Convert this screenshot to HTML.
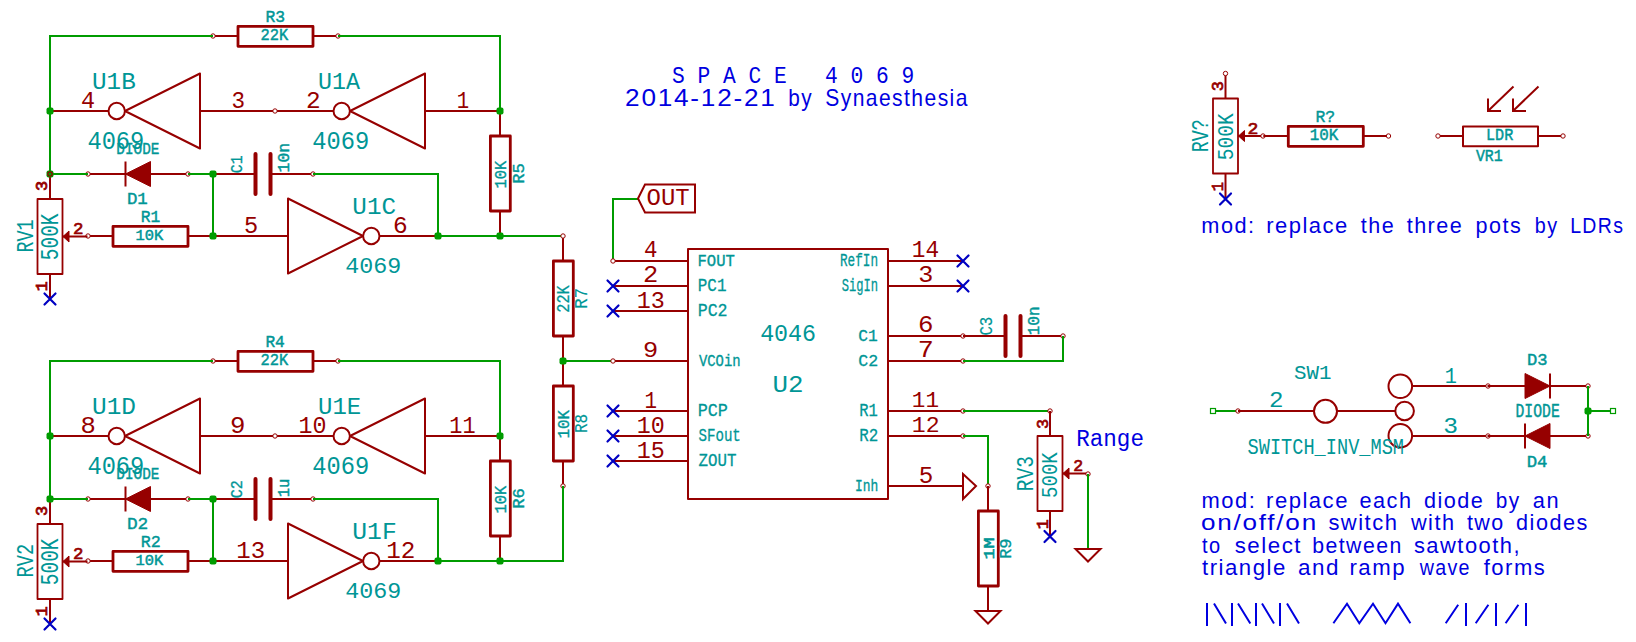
<!DOCTYPE html>
<html><head><meta charset="utf-8"><style>
html,body{margin:0;padding:0;background:#fff;width:1636px;height:642px;overflow:hidden}
svg{display:block}
text{font-family:"Liberation Mono",monospace;white-space:pre}
text.s{font-family:"Liberation Sans",sans-serif}
</style></head><body>
<svg width="1636" height="642" viewBox="0 0 1636 642">
<rect width="1636" height="642" fill="#fff"/>
<polyline points="213.0,36 238.0,36" fill="none" stroke="#960000" stroke-width="2"/>
<polyline points="313.0,36 338.0,36" fill="none" stroke="#960000" stroke-width="2"/>
<rect x="238.0" y="26.4" width="75.0" height="19.9" fill="none" stroke="#960000" stroke-width="2.8" stroke-linejoin="round"/>
<circle cx="213" cy="36" r="2.2" fill="#fff" stroke="#960000" stroke-width="1"/>
<circle cx="338" cy="36" r="2.2" fill="#fff" stroke="#960000" stroke-width="1"/>
<polyline points="213,36 50,36 50,174" fill="none" stroke="#009c00" stroke-width="2"/>
<polyline points="338,36 500,36 500,111" fill="none" stroke="#009c00" stroke-width="2"/>
<path d="M200.0 73.5 L125.0 111 L200.0 148.5 Z" fill="none" stroke="#960000" stroke-width="2" stroke-linejoin="round"/>
<circle cx="116.7" cy="111" r="8.2" fill="none" stroke="#960000" stroke-width="2"/>
<polyline points="275.0,111 200.0,111" fill="none" stroke="#960000" stroke-width="2"/>
<polyline points="108.5,111 50.0,111" fill="none" stroke="#960000" stroke-width="2"/>
<path d="M425.0 73.5 L350.0 111 L425.0 148.5 Z" fill="none" stroke="#960000" stroke-width="2" stroke-linejoin="round"/>
<circle cx="341.7" cy="111" r="8.2" fill="none" stroke="#960000" stroke-width="2"/>
<polyline points="500.0,111 425.0,111" fill="none" stroke="#960000" stroke-width="2"/>
<polyline points="333.5,111 275.0,111" fill="none" stroke="#960000" stroke-width="2"/>
<circle cx="275" cy="111" r="2.2" fill="#fff" stroke="#960000" stroke-width="1"/>
<path d="M288.0 198.5 L363.0 236 L288.0 273.5 Z" fill="none" stroke="#960000" stroke-width="2" stroke-linejoin="round"/>
<circle cx="371.3" cy="236" r="8.2" fill="none" stroke="#960000" stroke-width="2"/>
<polyline points="213.0,236 288.0,236" fill="none" stroke="#960000" stroke-width="2"/>
<polyline points="379.5,236 438.0,236" fill="none" stroke="#960000" stroke-width="2"/>
<polyline points="88,174 188,174" fill="none" stroke="#960000" stroke-width="2"/>
<path d="M150.5 161.5 L125.5 174 L150.5 186.5 Z" fill="#960000" stroke="#960000" stroke-width="1"/>
<line x1="125.5" y1="161.5" x2="125.5" y2="186.5" stroke="#960000" stroke-width="2"/>
<circle cx="88" cy="174" r="2.2" fill="#fff" stroke="#960000" stroke-width="1"/>
<circle cx="188" cy="174" r="2.2" fill="#fff" stroke="#960000" stroke-width="1"/>
<polyline points="50,174 88,174" fill="none" stroke="#009c00" stroke-width="2"/>
<polyline points="188,174 213,174 213,236" fill="none" stroke="#009c00" stroke-width="2"/>
<polyline points="213,174 255.5,174" fill="none" stroke="#960000" stroke-width="2"/>
<polyline points="270.5,174 313,174" fill="none" stroke="#960000" stroke-width="2"/>
<line x1="255.5" y1="154" x2="255.5" y2="194" stroke="#960000" stroke-width="4" stroke-linecap="round"/>
<line x1="270.5" y1="154" x2="270.5" y2="194" stroke="#960000" stroke-width="4" stroke-linecap="round"/>
<circle cx="313" cy="174" r="2.2" fill="#fff" stroke="#960000" stroke-width="1"/>
<polyline points="313,174 438,174 438,236" fill="none" stroke="#009c00" stroke-width="2"/>
<polyline points="88.0,236 113.0,236" fill="none" stroke="#960000" stroke-width="2"/>
<polyline points="188.0,236 213.0,236" fill="none" stroke="#960000" stroke-width="2"/>
<rect x="113.0" y="226.4" width="75.0" height="19.900000000000006" fill="none" stroke="#960000" stroke-width="2.8" stroke-linejoin="round"/>
<circle cx="88" cy="236" r="2.2" fill="#fff" stroke="#960000" stroke-width="1"/>
<polyline points="50,174.0 50,199.0" fill="none" stroke="#960000" stroke-width="2"/>
<polyline points="50,274.0 50,299.0" fill="none" stroke="#960000" stroke-width="2"/>
<rect x="37.5" y="199.0" width="25.0" height="75.0" fill="none" stroke="#960000" stroke-width="1.8" stroke-linejoin="round"/>
<polyline points="62.5,236.5 87.5,236.5" fill="none" stroke="#960000" stroke-width="2"/>
<path d="M63 236.5 L69 231.0 L69 242.0 Z" fill="#960000" stroke="#960000" stroke-width="1"/>
<polyline points="500,111.0 500,136.0" fill="none" stroke="#960000" stroke-width="2"/>
<polyline points="500,211.0 500,236.0" fill="none" stroke="#960000" stroke-width="2"/>
<rect x="490.4" y="136.0" width="19.900000000000034" height="75.0" fill="none" stroke="#960000" stroke-width="2.8" stroke-linejoin="round"/>
<path d="M44.5 293.5L55.5 304.5M44.5 304.5L55.5 293.5" stroke="#0000c2" stroke-width="2.2" stroke-linecap="round" fill="none"/>
<rect x="46.5" y="107.5" width="7" height="7" rx="2" fill="#009c00"/>
<rect x="46.5" y="170.5" width="7" height="7" rx="2" fill="#009c00"/>
<rect x="209.5" y="170.5" width="7" height="7" rx="2" fill="#009c00"/>
<rect x="209.5" y="232.5" width="7" height="7" rx="2" fill="#009c00"/>
<rect x="434.5" y="232.5" width="7" height="7" rx="2" fill="#009c00"/>
<rect x="496.5" y="232.5" width="7" height="7" rx="2" fill="#009c00"/>
<rect x="496.5" y="107.5" width="7" height="7" rx="2" fill="#009c00"/>
<polyline points="438,236 563,236" fill="none" stroke="#009c00" stroke-width="2"/>
<text transform="translate(265.41 21.70) scale(1.0261 1)" font-size="15.94" fill="#009696" stroke="#009696" stroke-width="0.43">R3</text>
<text transform="translate(260.62 40.40) scale(0.9744 1)" font-size="15.79" fill="#009696" stroke="#009696" stroke-width="0.44">22K</text>
<text transform="translate(92.02 88.80) scale(0.9992 1)" font-size="24.29" fill="#009696">U1B</text>
<text transform="translate(318.09 88.80) scale(0.9587 1)" font-size="24.29" fill="#009696">U1A</text>
<text transform="translate(87.41 148.80) scale(0.9527 1)" font-size="24.90" fill="#009696">4069</text>
<text transform="translate(312.31 148.80) scale(0.9527 1)" font-size="24.90" fill="#009696">4069</text>
<text transform="translate(81.12 107.70) scale(0.9533 1)" font-size="24.59" fill="#960000">4</text>
<text transform="translate(231.59 107.70) scale(0.9176 1)" font-size="24.59" fill="#960000">3</text>
<text transform="translate(306.08 107.70) scale(0.9922 1)" font-size="24.59" fill="#960000">2</text>
<text transform="translate(456.81 107.70) scale(0.8395 1)" font-size="24.59" fill="#960000">1</text>
<text transform="translate(116.26 153.50) scale(0.8699 1)" font-size="16.55" fill="#009696" stroke="#009696" stroke-width="0.38">DIODE</text>
<text transform="translate(126.92 204.30) scale(1.0731 1)" font-size="16.24" fill="#009696" stroke="#009696" stroke-width="0.40">D1</text>
<text transform="translate(140.71 221.70) scale(1.0042 1)" font-size="16.24" fill="#009696" stroke="#009696" stroke-width="0.40">R1</text>
<text transform="translate(135.49 239.70) scale(1.0145 1)" font-size="15.18" fill="#009696" stroke="#009696" stroke-width="0.49">10K</text>
<text transform="translate(241.70 173.22) rotate(-90) scale(0.8688 1)" font-size="17.00" fill="#009696" stroke="#009696" stroke-width="0.34">C1</text>
<text transform="translate(289.10 172.38) rotate(-90) scale(1.0212 1)" font-size="15.94" fill="#009696" stroke="#009696" stroke-width="0.43">10n</text>
<text transform="translate(33.00 252.46) rotate(-90) scale(0.7774 1)" font-size="23.68" fill="#009696">RV1</text>
<text transform="translate(57.80 260.22) rotate(-90) scale(0.7680 1)" font-size="25.35" fill="#009696">500K</text>
<text transform="translate(47.40 190.95) rotate(-90) scale(1.0585 1)" font-size="15.94" fill="#960000" stroke="#960000" stroke-width="0.78">3</text>
<text transform="translate(47.40 291.21) rotate(-90) scale(1.0567 1)" font-size="15.79" fill="#960000" stroke="#960000" stroke-width="0.79">1</text>
<text transform="translate(73.07 233.50) scale(1.0251 1)" font-size="17.00" fill="#960000" stroke="#960000" stroke-width="0.69">2</text>
<text transform="translate(244.02 232.70) scale(1.0104 1)" font-size="23.38" fill="#960000">5</text>
<text transform="translate(392.89 232.70) scale(1.0475 1)" font-size="23.38" fill="#960000">6</text>
<text transform="translate(352.32 213.50) scale(1.0188 1)" font-size="23.84" fill="#009696">U1C</text>
<text transform="translate(345.22 273.30) scale(1.0331 1)" font-size="22.62" fill="#009696">4069</text>
<text transform="translate(506.40 188.52) rotate(-90) scale(0.9429 1)" font-size="16.40" fill="#009696" stroke="#009696" stroke-width="0.39">10K</text>
<text transform="translate(523.80 183.76) rotate(-90) scale(1.0495 1)" font-size="16.40" fill="#009696" stroke="#009696" stroke-width="0.39">R5</text>
<polyline points="213.0,361 238.0,361" fill="none" stroke="#960000" stroke-width="2"/>
<polyline points="313.0,361 338.0,361" fill="none" stroke="#960000" stroke-width="2"/>
<rect x="238.0" y="351.4" width="75.0" height="19.900000000000034" fill="none" stroke="#960000" stroke-width="2.8" stroke-linejoin="round"/>
<circle cx="213" cy="361" r="2.2" fill="#fff" stroke="#960000" stroke-width="1"/>
<circle cx="338" cy="361" r="2.2" fill="#fff" stroke="#960000" stroke-width="1"/>
<polyline points="213,361 50,361 50,499" fill="none" stroke="#009c00" stroke-width="2"/>
<polyline points="338,361 500,361 500,436" fill="none" stroke="#009c00" stroke-width="2"/>
<path d="M200.0 398.5 L125.0 436 L200.0 473.5 Z" fill="none" stroke="#960000" stroke-width="2" stroke-linejoin="round"/>
<circle cx="116.7" cy="436" r="8.2" fill="none" stroke="#960000" stroke-width="2"/>
<polyline points="275.0,436 200.0,436" fill="none" stroke="#960000" stroke-width="2"/>
<polyline points="108.5,436 50.0,436" fill="none" stroke="#960000" stroke-width="2"/>
<path d="M425.0 398.5 L350.0 436 L425.0 473.5 Z" fill="none" stroke="#960000" stroke-width="2" stroke-linejoin="round"/>
<circle cx="341.7" cy="436" r="8.2" fill="none" stroke="#960000" stroke-width="2"/>
<polyline points="500.0,436 425.0,436" fill="none" stroke="#960000" stroke-width="2"/>
<polyline points="333.5,436 275.0,436" fill="none" stroke="#960000" stroke-width="2"/>
<circle cx="275" cy="436" r="2.2" fill="#fff" stroke="#960000" stroke-width="1"/>
<path d="M288.0 523.5 L363.0 561 L288.0 598.5 Z" fill="none" stroke="#960000" stroke-width="2" stroke-linejoin="round"/>
<circle cx="371.3" cy="561" r="8.2" fill="none" stroke="#960000" stroke-width="2"/>
<polyline points="213.0,561 288.0,561" fill="none" stroke="#960000" stroke-width="2"/>
<polyline points="379.5,561 438.0,561" fill="none" stroke="#960000" stroke-width="2"/>
<polyline points="88,499 188,499" fill="none" stroke="#960000" stroke-width="2"/>
<path d="M150.5 486.5 L125.5 499 L150.5 511.5 Z" fill="#960000" stroke="#960000" stroke-width="1"/>
<line x1="125.5" y1="486.5" x2="125.5" y2="511.5" stroke="#960000" stroke-width="2"/>
<circle cx="88" cy="499" r="2.2" fill="#fff" stroke="#960000" stroke-width="1"/>
<circle cx="188" cy="499" r="2.2" fill="#fff" stroke="#960000" stroke-width="1"/>
<polyline points="50,499 88,499" fill="none" stroke="#009c00" stroke-width="2"/>
<polyline points="188,499 213,499 213,561" fill="none" stroke="#009c00" stroke-width="2"/>
<polyline points="213,499 255.5,499" fill="none" stroke="#960000" stroke-width="2"/>
<polyline points="270.5,499 313,499" fill="none" stroke="#960000" stroke-width="2"/>
<line x1="255.5" y1="479" x2="255.5" y2="519" stroke="#960000" stroke-width="4" stroke-linecap="round"/>
<line x1="270.5" y1="479" x2="270.5" y2="519" stroke="#960000" stroke-width="4" stroke-linecap="round"/>
<circle cx="313" cy="499" r="2.2" fill="#fff" stroke="#960000" stroke-width="1"/>
<polyline points="313,499 438,499 438,561" fill="none" stroke="#009c00" stroke-width="2"/>
<polyline points="88.0,561 113.0,561" fill="none" stroke="#960000" stroke-width="2"/>
<polyline points="188.0,561 213.0,561" fill="none" stroke="#960000" stroke-width="2"/>
<rect x="113.0" y="551.4" width="75.0" height="19.899999999999977" fill="none" stroke="#960000" stroke-width="2.8" stroke-linejoin="round"/>
<circle cx="88" cy="561" r="2.2" fill="#fff" stroke="#960000" stroke-width="1"/>
<polyline points="50,499.0 50,524.0" fill="none" stroke="#960000" stroke-width="2"/>
<polyline points="50,599.0 50,624.0" fill="none" stroke="#960000" stroke-width="2"/>
<rect x="37.5" y="524.0" width="25.0" height="75.0" fill="none" stroke="#960000" stroke-width="1.8" stroke-linejoin="round"/>
<polyline points="62.5,561.5 87.5,561.5" fill="none" stroke="#960000" stroke-width="2"/>
<path d="M63 561.5 L69 556.0 L69 567.0 Z" fill="#960000" stroke="#960000" stroke-width="1"/>
<polyline points="500,436.0 500,461.0" fill="none" stroke="#960000" stroke-width="2"/>
<polyline points="500,536.0 500,561.0" fill="none" stroke="#960000" stroke-width="2"/>
<rect x="490.4" y="461.0" width="19.900000000000034" height="75.0" fill="none" stroke="#960000" stroke-width="2.8" stroke-linejoin="round"/>
<path d="M44.5 618.5L55.5 629.5M44.5 629.5L55.5 618.5" stroke="#0000c2" stroke-width="2.2" stroke-linecap="round" fill="none"/>
<rect x="46.5" y="432.5" width="7" height="7" rx="2" fill="#009c00"/>
<rect x="46.5" y="495.5" width="7" height="7" rx="2" fill="#009c00"/>
<rect x="209.5" y="495.5" width="7" height="7" rx="2" fill="#009c00"/>
<rect x="209.5" y="557.5" width="7" height="7" rx="2" fill="#009c00"/>
<rect x="434.5" y="557.5" width="7" height="7" rx="2" fill="#009c00"/>
<rect x="496.5" y="557.5" width="7" height="7" rx="2" fill="#009c00"/>
<rect x="496.5" y="432.5" width="7" height="7" rx="2" fill="#009c00"/>
<polyline points="438,561 563,561" fill="none" stroke="#009c00" stroke-width="2"/>
<text transform="translate(265.42 346.70) scale(1.0140 1)" font-size="15.94" fill="#009696" stroke="#009696" stroke-width="0.43">R4</text>
<text transform="translate(260.62 365.40) scale(0.9744 1)" font-size="15.79" fill="#009696" stroke="#009696" stroke-width="0.44">22K</text>
<text transform="translate(92.00 413.80) scale(1.0070 1)" font-size="24.29" fill="#009696">U1D</text>
<text transform="translate(318.04 413.80) scale(0.9883 1)" font-size="24.29" fill="#009696">U1E</text>
<text transform="translate(87.41 473.80) scale(0.9527 1)" font-size="24.90" fill="#009696">4069</text>
<text transform="translate(312.31 473.80) scale(0.9527 1)" font-size="24.90" fill="#009696">4069</text>
<text transform="translate(80.54 432.70) scale(1.0398 1)" font-size="24.59" fill="#960000">8</text>
<text transform="translate(230.03 432.70) scale(1.0475 1)" font-size="24.59" fill="#960000">9</text>
<text transform="translate(298.61 432.70) scale(0.9494 1)" font-size="24.59" fill="#960000">10</text>
<text transform="translate(449.31 432.70) scale(0.8926 1)" font-size="24.59" fill="#960000">11</text>
<text transform="translate(116.26 478.50) scale(0.8699 1)" font-size="16.55" fill="#009696" stroke="#009696" stroke-width="0.38">DIODE</text>
<text transform="translate(126.89 529.30) scale(1.0960 1)" font-size="16.24" fill="#009696" stroke="#009696" stroke-width="0.40">D2</text>
<text transform="translate(140.68 546.70) scale(1.0257 1)" font-size="16.24" fill="#009696" stroke="#009696" stroke-width="0.40">R2</text>
<text transform="translate(135.49 564.70) scale(1.0145 1)" font-size="15.18" fill="#009696" stroke="#009696" stroke-width="0.49">10K</text>
<text transform="translate(241.70 498.23) rotate(-90) scale(0.8869 1)" font-size="17.00" fill="#009696" stroke="#009696" stroke-width="0.34">C2</text>
<text transform="translate(289.10 497.22) rotate(-90) scale(0.9744 1)" font-size="15.94" fill="#009696" stroke="#009696" stroke-width="0.43">1u</text>
<text transform="translate(33.00 577.48) rotate(-90) scale(0.7880 1)" font-size="23.68" fill="#009696">RV2</text>
<text transform="translate(57.80 585.22) rotate(-90) scale(0.7680 1)" font-size="25.35" fill="#009696">500K</text>
<text transform="translate(47.40 515.95) rotate(-90) scale(1.0585 1)" font-size="15.94" fill="#960000" stroke="#960000" stroke-width="0.78">3</text>
<text transform="translate(47.40 616.21) rotate(-90) scale(1.0567 1)" font-size="15.79" fill="#960000" stroke="#960000" stroke-width="0.79">1</text>
<text transform="translate(73.07 558.50) scale(1.0251 1)" font-size="17.00" fill="#960000" stroke="#960000" stroke-width="0.69">2</text>
<text transform="translate(236.26 557.70) scale(1.0287 1)" font-size="23.38" fill="#960000">13</text>
<text transform="translate(386.24 557.70) scale(1.0398 1)" font-size="23.38" fill="#960000">12</text>
<text transform="translate(352.29 538.50) scale(1.0358 1)" font-size="23.84" fill="#009696">U1F</text>
<text transform="translate(345.22 598.30) scale(1.0331 1)" font-size="22.62" fill="#009696">4069</text>
<text transform="translate(506.40 513.52) rotate(-90) scale(0.9429 1)" font-size="16.40" fill="#009696" stroke="#009696" stroke-width="0.39">10K</text>
<text transform="translate(523.80 508.76) rotate(-90) scale(1.0510 1)" font-size="16.40" fill="#009696" stroke="#009696" stroke-width="0.39">R6</text>
<circle cx="50" cy="174" r="2.2" fill="none" stroke="#960000" stroke-width="1.2"/>
<polyline points="563,236.0 563,261.0" fill="none" stroke="#960000" stroke-width="2"/>
<polyline points="563,336.0 563,361.0" fill="none" stroke="#960000" stroke-width="2"/>
<rect x="553.4" y="261.0" width="19.899999999999977" height="75.0" fill="none" stroke="#960000" stroke-width="2.8" stroke-linejoin="round"/>
<circle cx="563" cy="236" r="2.2" fill="#fff" stroke="#960000" stroke-width="1"/>
<polyline points="563,361.0 563,386.0" fill="none" stroke="#960000" stroke-width="2"/>
<polyline points="563,461.0 563,486.0" fill="none" stroke="#960000" stroke-width="2"/>
<rect x="553.4" y="386.0" width="19.899999999999977" height="75.0" fill="none" stroke="#960000" stroke-width="2.8" stroke-linejoin="round"/>
<circle cx="563" cy="486" r="2.2" fill="#fff" stroke="#960000" stroke-width="1"/>
<polyline points="563,361 613,361" fill="none" stroke="#009c00" stroke-width="2"/>
<rect x="559.5" y="357.5" width="7" height="7" rx="2" fill="#009c00"/>
<polyline points="500,561 563,561 563,486" fill="none" stroke="#009c00" stroke-width="2"/>
<text transform="translate(569.40 312.77) rotate(-90) scale(0.8381 1)" font-size="18.22" fill="#009696" stroke="#009696" stroke-width="0.24">22K</text>
<text transform="translate(587.40 308.67) rotate(-90) scale(0.9094 1)" font-size="18.98" fill="#009696" stroke="#009696" stroke-width="0.17">R7</text>
<text transform="translate(569.20 438.45) rotate(-90) scale(0.9331 1)" font-size="17.00" fill="#009696" stroke="#009696" stroke-width="0.34">10K</text>
<text transform="translate(587.40 433.07) rotate(-90) scale(0.8508 1)" font-size="18.83" fill="#009696" stroke="#009696" stroke-width="0.19">R8</text>
<polyline points="613,261 613,199 638,199" fill="none" stroke="#009c00" stroke-width="2"/>
<path d="M638 198.5 L645 184.5 L695 184.5 L695 212.5 L645 212.5 Z" fill="none" stroke="#960000" stroke-width="2"/>
<text transform="translate(646.50 205.30) scale(0.9756 1)" font-size="24.59" fill="#960000">OUT</text>
<rect x="688" y="249" width="200" height="250" fill="none" stroke="#960000" stroke-width="2" stroke-linejoin="round"/>
<polyline points="613,261 688,261" fill="none" stroke="#960000" stroke-width="2"/>
<polyline points="613,286 688,286" fill="none" stroke="#960000" stroke-width="2"/>
<polyline points="613,311 688,311" fill="none" stroke="#960000" stroke-width="2"/>
<polyline points="613,361 688,361" fill="none" stroke="#960000" stroke-width="2"/>
<polyline points="613,411 688,411" fill="none" stroke="#960000" stroke-width="2"/>
<polyline points="613,436 688,436" fill="none" stroke="#960000" stroke-width="2"/>
<polyline points="613,461 688,461" fill="none" stroke="#960000" stroke-width="2"/>
<polyline points="888,261 963,261" fill="none" stroke="#960000" stroke-width="2"/>
<polyline points="888,286 963,286" fill="none" stroke="#960000" stroke-width="2"/>
<polyline points="888,336 963,336" fill="none" stroke="#960000" stroke-width="2"/>
<polyline points="888,361 963,361" fill="none" stroke="#960000" stroke-width="2"/>
<polyline points="888,411 963,411" fill="none" stroke="#960000" stroke-width="2"/>
<polyline points="888,436 963,436" fill="none" stroke="#960000" stroke-width="2"/>
<polyline points="888,486 963,486" fill="none" stroke="#960000" stroke-width="2"/>
<circle cx="613" cy="261" r="2.2" fill="#fff" stroke="#960000" stroke-width="1"/>
<circle cx="613" cy="361" r="2.2" fill="#fff" stroke="#960000" stroke-width="1"/>
<path d="M607.5 280.5L618.5 291.5M607.5 291.5L618.5 280.5" stroke="#0000c2" stroke-width="2.2" stroke-linecap="round" fill="none"/>
<path d="M607.5 305.5L618.5 316.5M607.5 316.5L618.5 305.5" stroke="#0000c2" stroke-width="2.2" stroke-linecap="round" fill="none"/>
<path d="M607.5 405.5L618.5 416.5M607.5 416.5L618.5 405.5" stroke="#0000c2" stroke-width="2.2" stroke-linecap="round" fill="none"/>
<path d="M607.5 430.5L618.5 441.5M607.5 441.5L618.5 430.5" stroke="#0000c2" stroke-width="2.2" stroke-linecap="round" fill="none"/>
<path d="M607.5 455.5L618.5 466.5M607.5 466.5L618.5 455.5" stroke="#0000c2" stroke-width="2.2" stroke-linecap="round" fill="none"/>
<path d="M957.5 255.5L968.5 266.5M957.5 266.5L968.5 255.5" stroke="#0000c2" stroke-width="2.2" stroke-linecap="round" fill="none"/>
<path d="M957.5 280.5L968.5 291.5M957.5 291.5L968.5 280.5" stroke="#0000c2" stroke-width="2.2" stroke-linecap="round" fill="none"/>
<circle cx="963" cy="336" r="2.2" fill="#fff" stroke="#960000" stroke-width="1"/>
<circle cx="963" cy="361" r="2.2" fill="#fff" stroke="#960000" stroke-width="1"/>
<circle cx="963" cy="411" r="2.2" fill="#fff" stroke="#960000" stroke-width="1"/>
<circle cx="963" cy="436" r="2.2" fill="#fff" stroke="#960000" stroke-width="1"/>
<text transform="translate(697.52 266.10) scale(0.9179 1)" font-size="17.00" fill="#009696" stroke="#009696" stroke-width="0.34">FOUT</text>
<text transform="translate(697.74 291.00) scale(0.9063 1)" font-size="17.61" fill="#009696" stroke="#009696" stroke-width="0.29">PC1</text>
<text transform="translate(697.69 316.00) scale(0.9347 1)" font-size="17.76" fill="#009696" stroke="#009696" stroke-width="0.28">PC2</text>
<text transform="translate(698.93 365.90) scale(0.8099 1)" font-size="17.16" fill="#009696" stroke="#009696" stroke-width="0.33">VCOin</text>
<text transform="translate(697.67 416.10) scale(0.9454 1)" font-size="17.76" fill="#009696" stroke="#009696" stroke-width="0.28">PCP</text>
<text transform="translate(698.45 441.00) scale(0.7957 1)" font-size="17.76" fill="#009696" stroke="#009696" stroke-width="0.28">SFout</text>
<text transform="translate(698.44 466.00) scale(0.8903 1)" font-size="17.76" fill="#009696" stroke="#009696" stroke-width="0.28">ZOUT</text>
<text transform="translate(840.00 266.10) scale(0.7153 1)" font-size="17.76" fill="#009696" stroke="#009696" stroke-width="0.28">RefIn</text>
<text transform="translate(841.73 291.00) scale(0.6876 1)" font-size="17.61" fill="#009696" stroke="#009696" stroke-width="0.29">SigIn</text>
<text transform="translate(858.30 341.00) scale(0.9461 1)" font-size="17.16" fill="#009696" stroke="#009696" stroke-width="0.33">C1</text>
<text transform="translate(858.29 365.90) scale(0.9659 1)" font-size="17.16" fill="#009696" stroke="#009696" stroke-width="0.33">C2</text>
<text transform="translate(859.18 416.10) scale(0.8712 1)" font-size="17.76" fill="#009696" stroke="#009696" stroke-width="0.28">R1</text>
<text transform="translate(859.15 441.00) scale(0.8898 1)" font-size="17.76" fill="#009696" stroke="#009696" stroke-width="0.28">R2</text>
<text transform="translate(854.93 491.00) scale(0.7513 1)" font-size="17.16" fill="#009696" stroke="#009696" stroke-width="0.33">Inh</text>
<text transform="translate(760.13 341.40) scale(0.9976 1)" font-size="23.38" fill="#009696">4046</text>
<text transform="translate(772.51 392.00) scale(1.0776 1)" font-size="23.99" fill="#009696">U2</text>
<text transform="translate(644.07 257.10) scale(0.9600 1)" font-size="23.38" fill="#960000">4</text>
<text transform="translate(642.91 282.40) scale(1.0833 1)" font-size="23.53" fill="#960000">2</text>
<text transform="translate(636.81 307.80) scale(0.9941 1)" font-size="23.53" fill="#960000">13</text>
<text transform="translate(642.96 357.20) scale(1.1123 1)" font-size="22.77" fill="#960000">9</text>
<text transform="translate(644.49 407.90) scale(0.8863 1)" font-size="23.53" fill="#960000">1</text>
<text transform="translate(636.81 432.80) scale(0.9987 1)" font-size="23.38" fill="#960000">10</text>
<text transform="translate(636.81 457.80) scale(0.9941 1)" font-size="23.53" fill="#960000">15</text>
<text transform="translate(911.86 256.90) scale(0.9543 1)" font-size="23.84" fill="#960000">14</text>
<text transform="translate(918.23 282.40) scale(1.0205 1)" font-size="24.59" fill="#960000">3</text>
<text transform="translate(917.90 332.20) scale(1.0486 1)" font-size="24.59" fill="#960000">6</text>
<text transform="translate(917.74 357.20) scale(1.1369 1)" font-size="23.53" fill="#960000">7</text>
<text transform="translate(911.86 407.40) scale(1.0032 1)" font-size="22.62" fill="#960000">11</text>
<text transform="translate(911.83 432.30) scale(1.0246 1)" font-size="22.62" fill="#960000">12</text>
<text transform="translate(918.68 482.70) scale(1.0308 1)" font-size="23.53" fill="#960000">5</text>
<polyline points="963,336 1005.5,336" fill="none" stroke="#960000" stroke-width="2"/>
<polyline points="1020.5,336 1063,336" fill="none" stroke="#960000" stroke-width="2"/>
<line x1="1005.5" y1="316" x2="1005.5" y2="356" stroke="#960000" stroke-width="4" stroke-linecap="round"/>
<line x1="1020.5" y1="316" x2="1020.5" y2="356" stroke="#960000" stroke-width="4" stroke-linecap="round"/>
<circle cx="1063" cy="336" r="2.2" fill="#fff" stroke="#960000" stroke-width="1"/>
<polyline points="1063,336 1063,361 963,361" fill="none" stroke="#009c00" stroke-width="2"/>
<text transform="translate(992.00 335.57) rotate(-90) scale(0.8350 1)" font-size="18.83" fill="#009696" stroke="#009696" stroke-width="0.19">C3</text>
<text transform="translate(1039.00 335.36) rotate(-90) scale(1.0098 1)" font-size="15.94" fill="#009696" stroke="#009696" stroke-width="0.43">10n</text>
<path d="M963 474 L976 486 L963 499 Z" fill="none" stroke="#960000" stroke-width="2"/>
<polyline points="963,411 1050,411" fill="none" stroke="#009c00" stroke-width="2"/>
<circle cx="1050" cy="411" r="2.2" fill="#fff" stroke="#960000" stroke-width="1"/>
<polyline points="1050,411.0 1050,436.0" fill="none" stroke="#960000" stroke-width="2"/>
<polyline points="1050,511.0 1050,536.0" fill="none" stroke="#960000" stroke-width="2"/>
<rect x="1037.5" y="436.0" width="25.0" height="75.0" fill="none" stroke="#960000" stroke-width="1.8" stroke-linejoin="round"/>
<polyline points="1062.5,473.5 1087.5,473.5" fill="none" stroke="#960000" stroke-width="2"/>
<path d="M1063 473.5 L1069 468.0 L1069 479.0 Z" fill="#960000" stroke="#960000" stroke-width="1"/>
<circle cx="1088" cy="474" r="2.2" fill="#fff" stroke="#960000" stroke-width="1"/>
<path d="M1044.5 531.0L1055.5 542.0M1044.5 542.0L1055.5 531.0" stroke="#0000c2" stroke-width="2.2" stroke-linecap="round" fill="none"/>
<polyline points="1088,474 1088,549" fill="none" stroke="#009c00" stroke-width="2"/>
<path d="M1075.5 549 L1100.5 549 L1088 561.5 Z" fill="none" stroke="#960000" stroke-width="2"/>
<polyline points="963,436 988,436 988,486" fill="none" stroke="#009c00" stroke-width="2"/>
<circle cx="988" cy="486" r="2.2" fill="#fff" stroke="#960000" stroke-width="1"/>
<polyline points="988,486.0 988,511.0" fill="none" stroke="#960000" stroke-width="2"/>
<polyline points="988,586.0 988,611.0" fill="none" stroke="#960000" stroke-width="2"/>
<rect x="978.4" y="511.0" width="19.899999999999977" height="75.0" fill="none" stroke="#960000" stroke-width="2.8" stroke-linejoin="round"/>
<path d="M975.5 611 L1000.5 611 L988 623.5 Z" fill="none" stroke="#960000" stroke-width="2"/>
<text transform="translate(1048.20 428.95) rotate(-90) scale(0.9923 1)" font-size="17.00" fill="#960000" stroke="#960000" stroke-width="0.69">3</text>
<text transform="translate(1047.80 529.21) rotate(-90) scale(1.0176 1)" font-size="16.40" fill="#960000" stroke="#960000" stroke-width="0.74">1</text>
<text transform="translate(1073.24 471.00) scale(0.9738 1)" font-size="17.00" fill="#960000" stroke="#960000" stroke-width="0.69">2</text>
<text transform="translate(1032.50 491.25) rotate(-90) scale(0.8306 1)" font-size="23.53" fill="#009696">RV3</text>
<text transform="translate(1057.30 497.89) rotate(-90) scale(0.8752 1)" font-size="21.71" fill="#009696">500K</text>
<text transform="translate(994.00 559.53) rotate(-90) scale(1.2504 1)" font-size="14.73" fill="#009696" stroke="#009696" stroke-width="0.53">1M</text>
<text transform="translate(1011.00 558.85) rotate(-90) scale(1.0191 1)" font-size="16.70" fill="#009696" stroke="#009696" stroke-width="0.36">R9</text>
<text transform="translate(1076.21 446.10) scale(0.9184 1)" font-size="24.59" fill="#0000e0">Range</text>
<text transform="translate(672.08 82.50) scale(0.8807 1)" font-size="24.14" fill="#0000e0">S P A C E   4 0 6 9</text>
<text class="s" letter-spacing="1.641" transform="translate(625.09 105.70) scale(1.0891 1)" font-size="24.00" fill="#0000e0">2014-12-21</text>
<text class="s" letter-spacing="1.641" transform="translate(788.16 105.70) scale(0.8663 1)" font-size="24.00" fill="#0000e0">by</text>
<text class="s" letter-spacing="1.641" transform="translate(825.24 105.70) scale(0.8774 1)" font-size="24.00" fill="#0000e0">Synaesthesia</text>
<polyline points="1225.5,73.5 1225.5,98.5" fill="none" stroke="#960000" stroke-width="2"/>
<polyline points="1225.5,173.5 1225.5,198.5" fill="none" stroke="#960000" stroke-width="2"/>
<rect x="1213.0" y="98.5" width="25.0" height="75.0" fill="none" stroke="#960000" stroke-width="1.8" stroke-linejoin="round"/>
<polyline points="1238.0,136 1263.0,136" fill="none" stroke="#960000" stroke-width="2"/>
<path d="M1238.5 136 L1244.5 130.5 L1244.5 141.5 Z" fill="#960000" stroke="#960000" stroke-width="1"/>
<circle cx="1225.5" cy="73.5" r="2.2" fill="#fff" stroke="#960000" stroke-width="1"/>
<path d="M1220.0 193.5L1231.0 204.5M1220.0 204.5L1231.0 193.5" stroke="#0000c2" stroke-width="2.2" stroke-linecap="round" fill="none"/>
<circle cx="1263" cy="136" r="2.2" fill="#fff" stroke="#960000" stroke-width="1"/>
<polyline points="1263.3,136 1288.3,136" fill="none" stroke="#960000" stroke-width="2"/>
<polyline points="1363.3,136 1388.3,136" fill="none" stroke="#960000" stroke-width="2"/>
<rect x="1288.3" y="126.4" width="75.0" height="19.900000000000006" fill="none" stroke="#960000" stroke-width="2.8" stroke-linejoin="round"/>
<circle cx="1388.5" cy="136" r="2.2" fill="#fff" stroke="#960000" stroke-width="1"/>
<polyline points="1438.0,136 1463.0,136" fill="none" stroke="#960000" stroke-width="2"/>
<polyline points="1538.0,136 1563.0,136" fill="none" stroke="#960000" stroke-width="2"/>
<rect x="1463.0" y="126.4" width="75.0" height="19.900000000000006" fill="none" stroke="#960000" stroke-width="2.0" stroke-linejoin="round"/>
<circle cx="1438" cy="136" r="2.2" fill="#fff" stroke="#960000" stroke-width="1"/>
<circle cx="1563" cy="136" r="2.2" fill="#fff" stroke="#960000" stroke-width="1"/>
<text transform="translate(1208.10 152.35) rotate(-90) scale(0.7419 1)" font-size="24.75" fill="#009696">RV?</text>
<text transform="translate(1232.70 160.32) rotate(-90) scale(0.8723 1)" font-size="22.47" fill="#009696">500K</text>
<text transform="translate(1222.90 91.25) rotate(-90) scale(1.0197 1)" font-size="16.55" fill="#960000" stroke="#960000" stroke-width="0.73">3</text>
<text transform="translate(1223.00 191.32) rotate(-90) scale(0.9241 1)" font-size="16.70" fill="#960000" stroke="#960000" stroke-width="0.71">1</text>
<text transform="translate(1247.43 134.00) scale(1.0541 1)" font-size="17.16" fill="#960000" stroke="#960000" stroke-width="0.68">2</text>
<text transform="translate(1315.40 121.60) scale(1.0133 1)" font-size="16.24" fill="#009696" stroke="#009696" stroke-width="0.40">R?</text>
<text transform="translate(1309.65 139.90) scale(1.0085 1)" font-size="15.79" fill="#009696" stroke="#009696" stroke-width="0.44">10K</text>
<text transform="translate(1486.05 139.90) scale(0.9581 1)" font-size="15.79" fill="#009696" stroke="#009696" stroke-width="0.44">LDR</text>
<text transform="translate(1475.93 160.60) scale(0.9517 1)" font-size="15.64" fill="#009696" stroke="#009696" stroke-width="0.45">VR1</text>
<path d="M1513.5 86.5 L1488 111 M1488 98.5 L1488 111 L1501 111" fill="none" stroke="#960000" stroke-width="2"/>
<path d="M1538.5 86.5 L1513 111 M1513 98.5 L1513 111 L1526 111" fill="none" stroke="#960000" stroke-width="2"/>
<text class="s" letter-spacing="1.504" transform="translate(1201.36 232.90) scale(0.9890 1)" font-size="22.00" fill="#0000e0">mod:</text>
<text class="s" letter-spacing="1.504" transform="translate(1266.14 232.90) scale(0.9995 1)" font-size="22.00" fill="#0000e0">replace</text>
<text class="s" letter-spacing="1.504" transform="translate(1360.77 232.90) scale(0.9789 1)" font-size="22.00" fill="#0000e0">the</text>
<text class="s" letter-spacing="1.504" transform="translate(1406.67 232.90) scale(0.9809 1)" font-size="22.00" fill="#0000e0">three</text>
<text class="s" letter-spacing="1.504" transform="translate(1475.61 232.90) scale(0.9799 1)" font-size="22.00" fill="#0000e0">pots</text>
<text class="s" letter-spacing="1.504" transform="translate(1534.83 232.90) scale(0.8978 1)" font-size="22.00" fill="#0000e0">by</text>
<text class="s" letter-spacing="1.504" transform="translate(1570.20 232.90) scale(0.8854 1)" font-size="22.00" fill="#0000e0">LDRs</text>
<rect x="1210.5" y="408.5" width="5" height="5" fill="none" stroke="#009c00" stroke-width="1.2"/>
<polyline points="1216,411 1238,411" fill="none" stroke="#009c00" stroke-width="2"/>
<circle cx="1238" cy="411" r="2.2" fill="#fff" stroke="#960000" stroke-width="1"/>
<polyline points="1238,411 1314,411" fill="none" stroke="#960000" stroke-width="2"/>
<circle cx="1325.5" cy="411.3" r="11.5" fill="none" stroke="#960000" stroke-width="2"/>
<polyline points="1337,411 1395.3,411" fill="none" stroke="#960000" stroke-width="2"/>
<circle cx="1404.6" cy="411" r="9.3" fill="none" stroke="#960000" stroke-width="2"/>
<circle cx="1400.3" cy="386.3" r="11.8" fill="none" stroke="#960000" stroke-width="2"/>
<circle cx="1400.3" cy="435.7" r="11.8" fill="none" stroke="#960000" stroke-width="2"/>
<polyline points="1412,386 1488,386" fill="none" stroke="#960000" stroke-width="2"/>
<polyline points="1412,436 1488,436" fill="none" stroke="#960000" stroke-width="2"/>
<circle cx="1488" cy="386" r="2.2" fill="#fff" stroke="#960000" stroke-width="1"/>
<circle cx="1488" cy="436" r="2.2" fill="#fff" stroke="#960000" stroke-width="1"/>
<polyline points="1487.5,386 1587.5,386" fill="none" stroke="#960000" stroke-width="2"/>
<path d="M1525.0 373.5 L1550.0 386 L1525.0 398.5 Z" fill="#960000" stroke="#960000" stroke-width="1"/>
<line x1="1550.0" y1="373.5" x2="1550.0" y2="398.5" stroke="#960000" stroke-width="2"/>
<polyline points="1487.5,436 1587.5,436" fill="none" stroke="#960000" stroke-width="2"/>
<path d="M1550.0 423.5 L1525.0 436 L1550.0 448.5 Z" fill="#960000" stroke="#960000" stroke-width="1"/>
<line x1="1525.0" y1="423.5" x2="1525.0" y2="448.5" stroke="#960000" stroke-width="2"/>
<polyline points="1587.5,386 1588,386" fill="none" stroke="#960000" stroke-width="2"/>
<circle cx="1588" cy="386" r="2.2" fill="#fff" stroke="#960000" stroke-width="1"/>
<circle cx="1588" cy="436" r="2.2" fill="#fff" stroke="#960000" stroke-width="1"/>
<polyline points="1588,386 1588,436" fill="none" stroke="#009c00" stroke-width="2"/>
<rect x="1584.5" y="407.5" width="7" height="7" rx="2" fill="#009c00"/>
<polyline points="1588,411 1610,411" fill="none" stroke="#009c00" stroke-width="2"/>
<rect x="1610.5" y="408.5" width="5" height="5" fill="none" stroke="#009c00" stroke-width="1.2"/>
<text transform="translate(1294.00 378.70) scale(1.0242 1)" font-size="20.34" fill="#009696" stroke="#009696" stroke-width="0.06">SW1</text>
<text transform="translate(1268.90 407.00) scale(1.0620 1)" font-size="22.77" fill="#009696">2</text>
<text transform="translate(1444.74 383.00) scale(0.8883 1)" font-size="22.77" fill="#009696">1</text>
<text transform="translate(1443.26 433.00) scale(1.0836 1)" font-size="22.77" fill="#009696">3</text>
<text transform="translate(1247.58 453.70) scale(0.8770 1)" font-size="21.25" fill="#009696">SWITCH_INV_MSM</text>
<text transform="translate(1527.05 364.50) scale(1.0736 1)" font-size="15.94" fill="#009696" stroke="#009696" stroke-width="0.43">D3</text>
<text transform="translate(1515.53 417.00) scale(0.7470 1)" font-size="19.74" fill="#009696" stroke="#009696" stroke-width="0.46">DIODE</text>
<text transform="translate(1526.63 466.50) scale(1.0843 1)" font-size="15.94" fill="#009696" stroke="#009696" stroke-width="0.43">D4</text>
<text class="s" letter-spacing="1.504" transform="translate(1201.54 507.70) scale(0.9970 1)" font-size="22.00" fill="#0000e0">mod:</text>
<text class="s" letter-spacing="1.504" transform="translate(1266.03 507.70) scale(1.0033 1)" font-size="22.00" fill="#0000e0">replace</text>
<text class="s" letter-spacing="1.504" transform="translate(1359.48 507.70) scale(0.9869 1)" font-size="22.00" fill="#0000e0">each</text>
<text class="s" letter-spacing="1.504" transform="translate(1423.89 507.70) scale(0.9837 1)" font-size="22.00" fill="#0000e0">diode</text>
<text class="s" letter-spacing="1.504" transform="translate(1495.86 507.70) scale(0.9451 1)" font-size="22.00" fill="#0000e0">by</text>
<text class="s" letter-spacing="1.504" transform="translate(1532.87 507.70) scale(0.9910 1)" font-size="22.00" fill="#0000e0">an</text>
<text class="s" letter-spacing="1.504" transform="translate(1200.90 530.30) scale(1.1857 1)" font-size="22.00" fill="#0000e0">on/off/on</text>
<text class="s" letter-spacing="1.504" transform="translate(1328.39 530.30) scale(0.9985 1)" font-size="22.00" fill="#0000e0">switch</text>
<text class="s" letter-spacing="1.504" transform="translate(1410.93 530.30) scale(0.9873 1)" font-size="22.00" fill="#0000e0">with</text>
<text class="s" letter-spacing="1.504" transform="translate(1466.88 530.30) scale(0.9754 1)" font-size="22.00" fill="#0000e0">two</text>
<text class="s" letter-spacing="1.504" transform="translate(1516.09 530.30) scale(0.9840 1)" font-size="22.00" fill="#0000e0">diodes</text>
<text class="s" letter-spacing="1.504" transform="translate(1202.00 552.60) scale(0.9089 1)" font-size="22.00" fill="#0000e0">to</text>
<text class="s" letter-spacing="1.504" transform="translate(1234.68 552.60) scale(1.0138 1)" font-size="22.00" fill="#0000e0">select</text>
<text class="s" letter-spacing="1.504" transform="translate(1312.23 552.60) scale(0.9658 1)" font-size="22.00" fill="#0000e0">between</text>
<text class="s" letter-spacing="1.504" transform="translate(1413.89 552.60) scale(0.9961 1)" font-size="22.00" fill="#0000e0">sawtooth,</text>
<text class="s" letter-spacing="1.504" transform="translate(1201.96 575.20) scale(1.0077 1)" font-size="22.00" fill="#0000e0">triangle</text>
<text class="s" letter-spacing="1.504" transform="translate(1297.95 575.20) scale(1.0198 1)" font-size="22.00" fill="#0000e0">and</text>
<text class="s" letter-spacing="1.504" transform="translate(1349.43 575.20) scale(1.0086 1)" font-size="22.00" fill="#0000e0">ramp</text>
<text class="s" letter-spacing="1.504" transform="translate(1419.63 575.20) scale(0.8939 1)" font-size="22.00" fill="#0000e0">wave</text>
<text class="s" letter-spacing="1.504" transform="translate(1483.69 575.20) scale(1.0015 1)" font-size="22.00" fill="#0000e0">forms</text>
<path d="M1207 603 V626 M1214 603.5 L1226 623.5 M1232 603 V626 M1238 603.5 L1250.3 623.5 M1256 603 V626 M1262 603.5 L1274 623.5 M1280 603 V626 M1287 603.5 L1299 623.5" fill="none" stroke="#0000e0" stroke-width="2"/>
<path d="M1333.4 623.2 L1347 603.7 L1359.3 623.2 L1373 603.7 L1385.5 623.2 L1398 603.7 L1410.4 623.2" fill="none" stroke="#0000e0" stroke-width="2"/>
<path d="M1445.7 623.2 L1458.2 604.7 M1466 603 V626 M1475.7 623.2 L1488.4 604.7 M1496 603 V626 M1505.6 623.2 L1518.4 604.7 M1526 603 V626" fill="none" stroke="#0000e0" stroke-width="2"/>
</svg></body></html>
